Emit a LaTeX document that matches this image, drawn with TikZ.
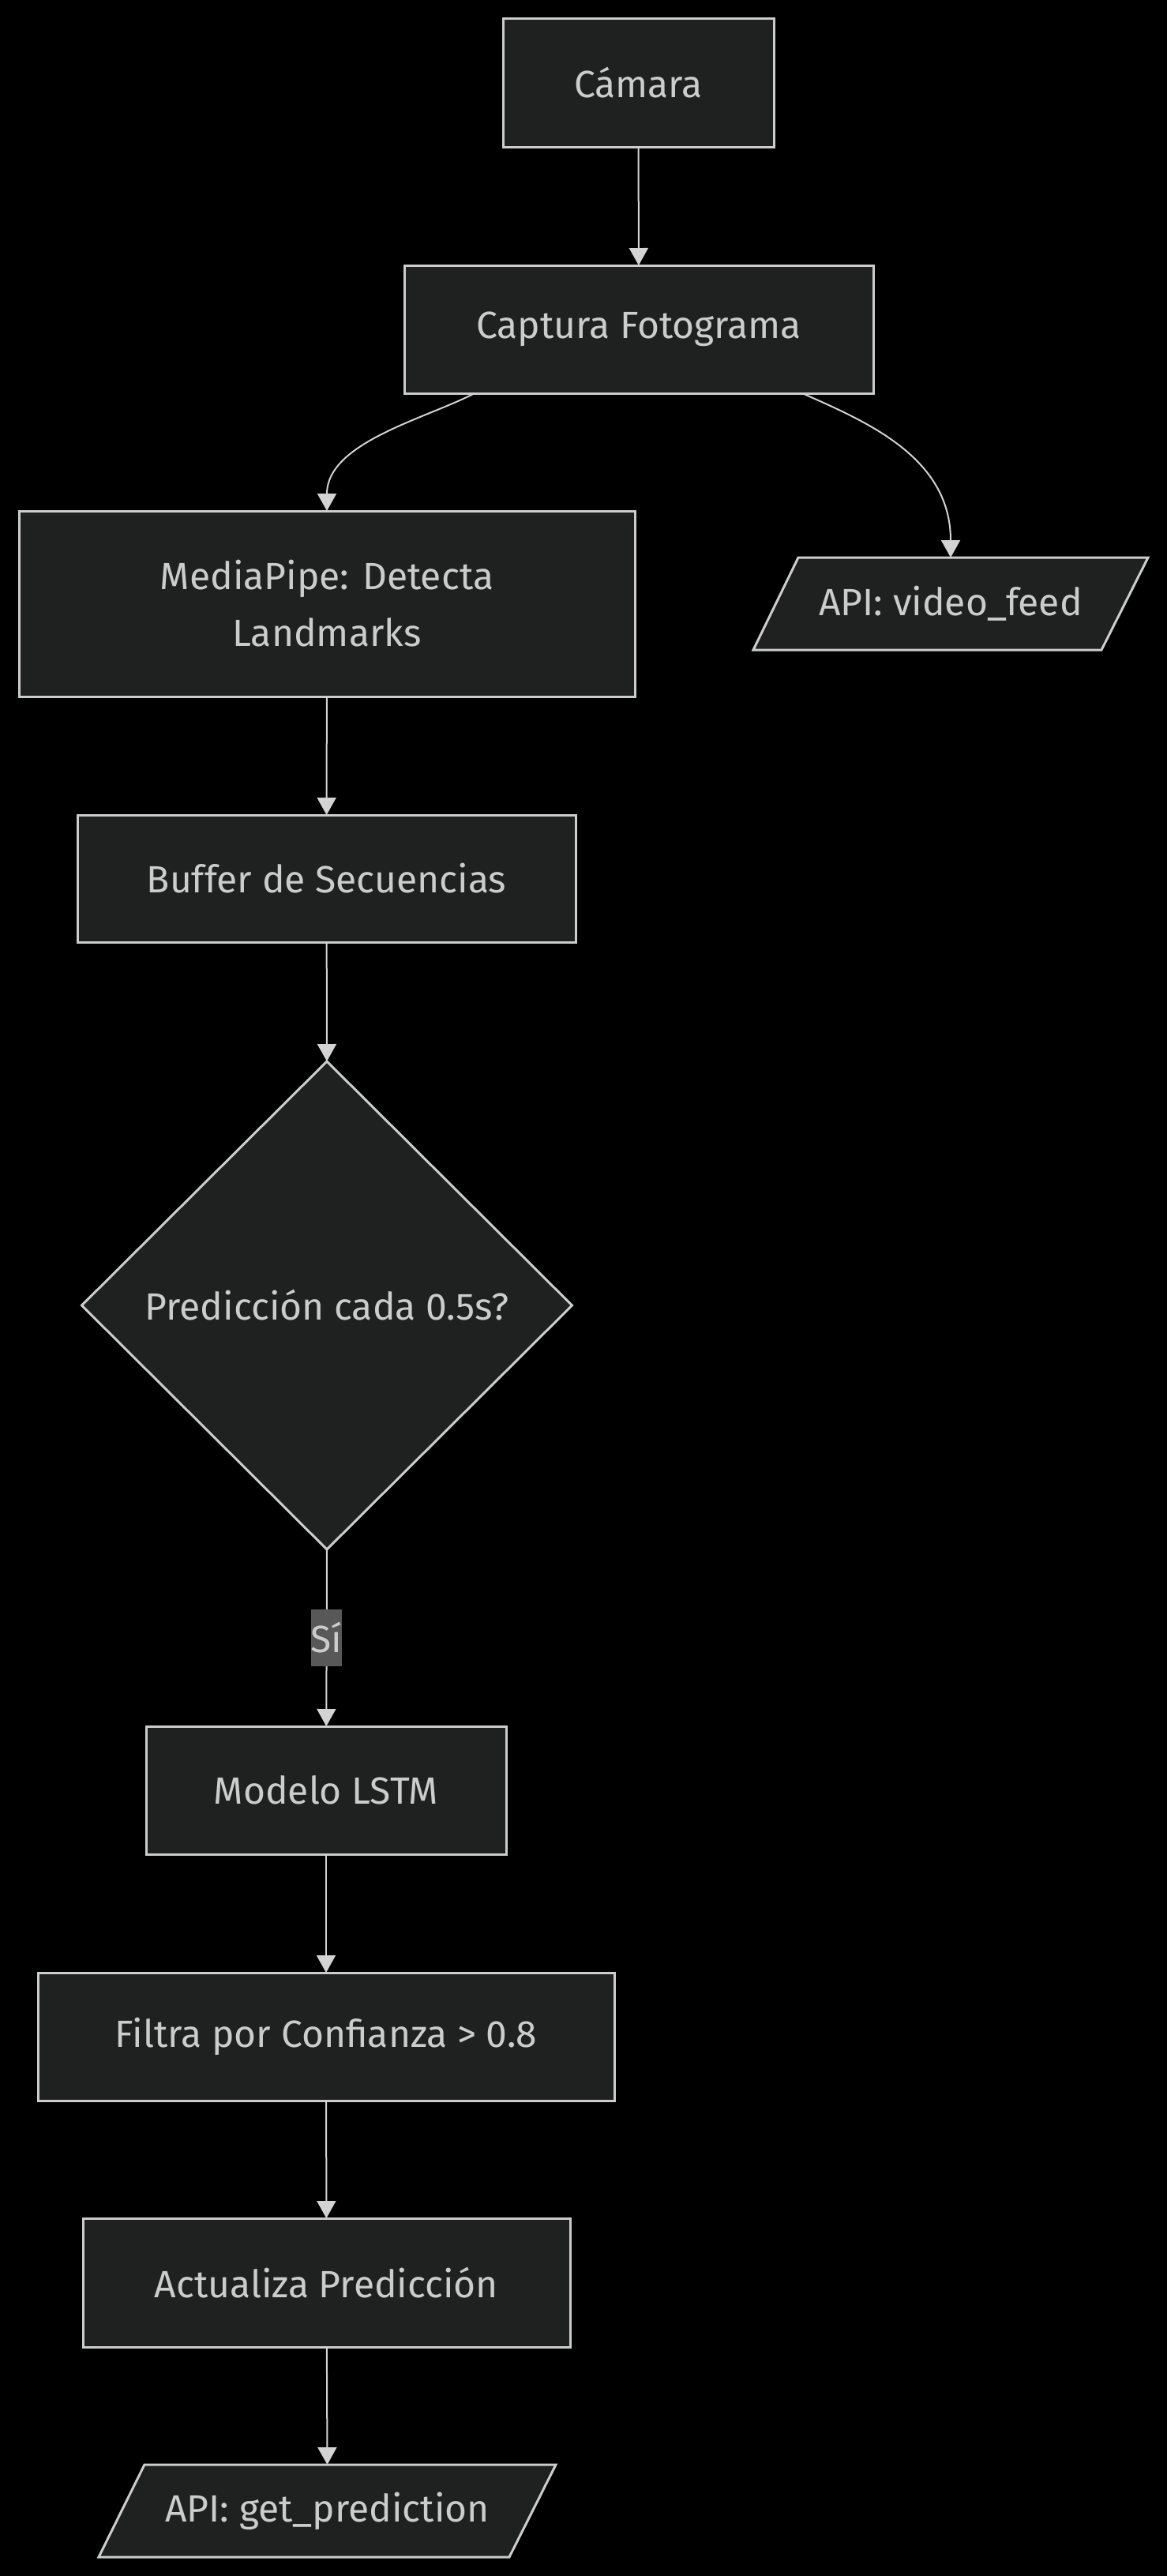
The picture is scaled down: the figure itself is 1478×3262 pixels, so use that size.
\documentclass[tikz,border=0pt]{standalone}
\usepackage{fontspec}
\setmainfont{Fira Sans}
\usetikzlibrary{shapes.geometric,arrows.meta,calc}
\definecolor{nodefill}{HTML}{1F2020}
\definecolor{nodeline}{HTML}{CCCCCC}
\definecolor{txt}{HTML}{CCCCCC}
\definecolor{edgecol}{HTML}{D3D3D3}
\definecolor{lblbg}{HTML}{585858}
\begin{document}
\begin{tikzpicture}[x=0.5pt,y=-0.5pt,
  every node/.style={font=\fontsize{24}{36}\selectfont, text=txt, inner sep=0pt, outer sep=0pt},
  procbox/.style={draw=nodeline, fill=nodefill, line width=1.5pt, rectangle, align=center},
  iobox/.style={rectangle, align=center},
  decbox/.style={draw=nodeline, fill=nodefill, line width=1.5pt, diamond, shape aspect=1, minimum width=310.5pt, minimum height=309pt},
  edge/.style={draw=edgecol, line width=1pt, -{Triangle[length=11pt,width=12pt]}},
  lbl/.style={fill=lblbg, minimum width=18pt, minimum height=36pt}
]
\fill[black] (0,0) rectangle (1478,3262);
\useasboundingbox (0,0) rectangle (1478,3262);

\node[procbox, minimum width=171.5pt, minimum height=81.5pt] (cam) at (808.5,104.5) {Cámara};
\node[procbox, minimum width=297pt, minimum height=81pt] (cap) at (809,417) {Captura Fotograma};
\node[procbox, minimum width=390pt, minimum height=117.5pt] (mp) at (414,764.5) {MediaPipe: Detecta\\Landmarks};
\node[iobox, minimum width=250pt, minimum height=58.5pt] (vf) at (1204,764.5) {};
\draw[draw=nodeline, fill=nodefill, line width=1.5pt]
  ($(vf.north west)+(57,0)$) -- (vf.north east) -- ($(vf.south east)+(-59,0)$) -- (vf.south west) -- cycle;
\node at (vf) {API: video\_feed};
\node[procbox, minimum width=315.5pt, minimum height=80.5pt] (buf) at (413.5,1112.5) {Buffer de Secuencias};
\node[decbox] (dec) at (414,1653) {Predicción cada 0.5s?};
\node[procbox, minimum width=228pt, minimum height=81pt] (lstm) at (413,2267) {Modelo LSTM};
\node[procbox, minimum width=365pt, minimum height=81pt] (fil) at (413,2579) {Filtra por Confianza > 0.8};
\node[procbox, minimum width=308.5pt, minimum height=81.5pt] (act) at (413.5,2890.5) {Actualiza Predicción};
\node[iobox, minimum width=289.5pt, minimum height=58.5pt] (gp) at (414.5,3179.5) {};
\draw[draw=nodeline, fill=nodefill, line width=1.5pt]
  ($(gp.north west)+(58,0)$) -- (gp.north east) -- ($(gp.south east)+(-59,0)$) -- (gp.south west) -- cycle;
\node at (gp) {API: get\_prediction};

\draw[edge] (cam) -- (cap);
\coordinate (capL) at ($(cap.south)+(-208,0)$);
\coordinate (capR) at ($(cap.south)+(207,0)$);
\draw[edge] (capL) .. controls (540,530) and (414,560) .. (mp.north);
\draw[edge] (capR) .. controls (1100,535) and (1204,580) .. (vf.north);
\draw[edge] (mp) -- (buf);
\draw[edge] (buf) -- (dec.north);
\draw[edge] (dec.south) -- (lstm) node[pos=0.5, lbl] (si) {Sí};
\draw[edge] (lstm) -- (fil);
\draw[edge] (fil) -- (act);
\draw[edge] (act) -- (gp.north);
\end{tikzpicture}
\end{document}
